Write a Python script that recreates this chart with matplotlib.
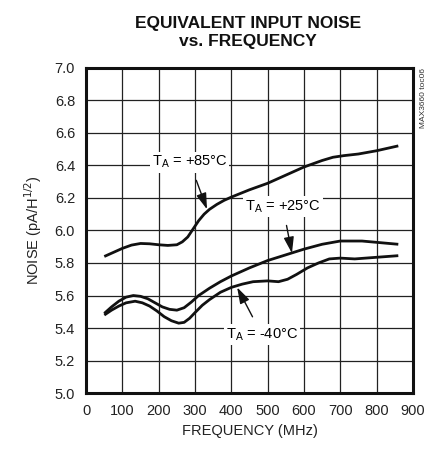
import matplotlib
matplotlib.use("Agg")
import matplotlib.pyplot as plt

plt.rcParams["font.family"] = ["Liberation Sans", "DejaVu Sans"]

# data
freq_85 = [50, 75, 100, 125, 150, 175, 200, 225, 250, 265, 280, 295, 310, 325, 340, 360, 380, 400,
           450, 500, 550, 600, 650, 680, 710, 750, 800, 860]
noise_85 = [5.84, 5.865, 5.89, 5.91, 5.92, 5.918, 5.912, 5.908, 5.912, 5.93, 5.96, 6.01, 6.06, 6.10,
            6.13, 6.16, 6.185, 6.205, 6.25, 6.29, 6.34, 6.39, 6.43, 6.45, 6.46, 6.47, 6.49, 6.52]

freq_25 = [50, 70, 90, 110, 130, 150, 170, 190, 210, 230, 250, 270, 290, 310, 340, 370, 400,
           450, 500, 550, 600, 650, 700, 760, 810, 860]
noise_25 = [5.49, 5.53, 5.565, 5.59, 5.60, 5.595, 5.58, 5.555, 5.53, 5.515, 5.51, 5.525, 5.56, 5.60,
            5.645, 5.685, 5.72, 5.77, 5.815, 5.85, 5.885, 5.915, 5.935, 5.935, 5.925, 5.915]

freq_m40 = [50, 70, 90, 110, 135, 155, 175, 195, 215, 235, 255, 270, 285, 300, 320, 340, 370, 400,
            430, 460, 500, 530, 555, 580, 610, 640, 670, 700, 740, 800, 860]
noise_m40 = [5.48, 5.51, 5.535, 5.555, 5.565, 5.555, 5.535, 5.505, 5.47, 5.445, 5.43, 5.435, 5.46,
             5.495, 5.54, 5.575, 5.62, 5.65, 5.67, 5.685, 5.69, 5.685, 5.70, 5.73, 5.77, 5.80,
             5.825, 5.83, 5.825, 5.835, 5.845]

x_ticks = [0, 100, 200, 300, 400, 500, 600, 700, 800, 900]
y_ticks = [5.0, 5.2, 5.4, 5.6, 5.8, 6.0, 6.2, 6.4, 6.6, 6.8, 7.0]

fig = plt.figure(figsize=(4.35, 4.55), dpi=100)
ax = fig.add_axes([0.198, 0.136, 0.751, 0.715])

for f, n in [(freq_85, noise_85), (freq_25, noise_25), (freq_m40, noise_m40)]:
    ax.plot(f, n, color="#111111", linewidth=2.0, solid_joinstyle="round", solid_capstyle="butt", zorder=3)

ax.set_xlim(0, 900)
ax.set_ylim(5.0, 7.0)
ax.set_xticks(x_ticks)
ax.set_yticks(y_ticks)
ax.set_yticklabels([f"{v:.1f}" for v in y_ticks])
ax.tick_params(length=0, labelsize=10.5, pad=8, colors="#222222")
ax.grid(True, color="#222222", linewidth=0.9)
ax.set_axisbelow(True)
for s in ax.spines.values():
    s.set_linewidth(2.2)
    s.set_color("#111111")

ax.set_xlabel("FREQUENCY (MHz)", fontsize=10.5, color="#222222", labelpad=4)
ax.set_ylabel("NOISE (pA/H$^{1/2}$)", fontsize=10.5, color="#222222", labelpad=8)

fig.text(0.57, 0.965, "EQUIVALENT INPUT NOISE\nvs. FREQUENCY", ha="center", va="top",
         fontsize=12.5, fontweight="bold", linespacing=1.25, color="#111111")
fig.text(0.973, 0.851, "MAX3660 toc06", rotation=90, ha="center", va="top", fontsize=6, color="#333333")

box = dict(facecolor="white", edgecolor="none", pad=1.5)
arrow = dict(arrowstyle="-|>,head_length=0.7,head_width=0.22", color="#111111", lw=1.0,
             mutation_scale=14, shrinkA=6, shrinkB=0)
ax.annotate("T$_\\mathregular{A}$ = +85°C", xy=(333, 6.13), xytext=(285, 6.42), ha="center", va="center",
            fontsize=10.5, bbox=box, arrowprops=arrow, zorder=4)
ax.annotate("T$_\\mathregular{A}$ = +25°C", xy=(567, 5.86), xytext=(542, 6.145), ha="center", va="center",
            fontsize=10.5, bbox=box, arrowprops=arrow, zorder=4)
ax.annotate("T$_\\mathregular{A}$ = -40°C", xy=(416, 5.65), xytext=(484, 5.36), ha="center", va="center",
            fontsize=10.5, bbox=box, arrowprops=arrow, zorder=4)

fig.savefig("out.png", dpi=100)
